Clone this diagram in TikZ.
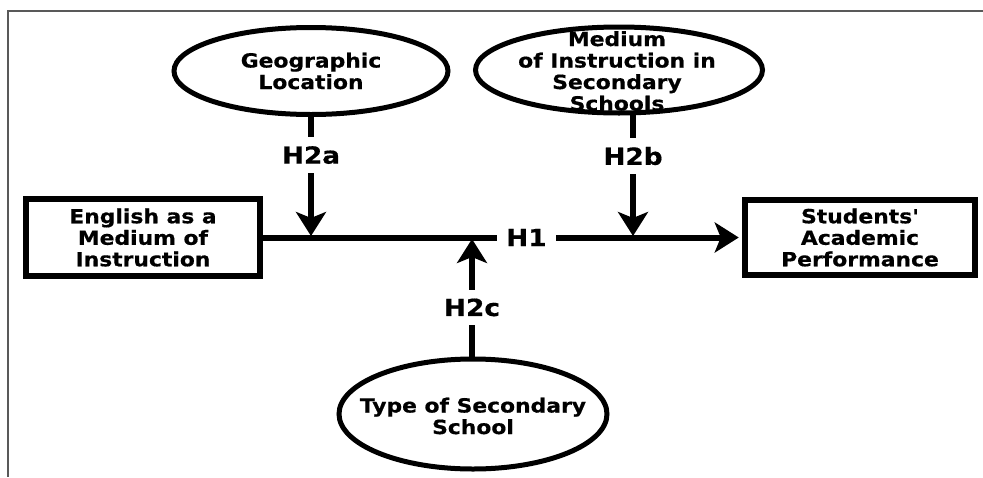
\documentclass[tikz,border=0pt]{standalone}
\usepackage{fontspec}
\newfontfamily\labfont{DejaVu Sans Bold}[FakeStretch=1.12,FakeBold=0.6]
\usetikzlibrary{shapes.geometric,arrows.meta}
\tikzset{
  framel/.style={draw=black!65, line width=1.5pt},
  oval/.style={draw=black, line width=5pt, ellipse, inner sep=0pt},
  boxn/.style={draw=black, line width=6.5pt, rectangle, inner sep=0pt},
  txt/.style={font=\labfont\fontsize{19.5}{21.5}\selectfont, align=center, text=black, inner sep=0pt},
  hlab/.style={font=\labfont\fontsize{23.5}{25}\selectfont, text=black, fill=white, inner xsep=9pt, inner ysep=9pt},
  conn/.style={draw=black, line width=6pt},
  arr/.style={conn, -{Stealth[length=24pt,width=30pt,inset=6pt]}},
}
\begin{document}
\begin{tikzpicture}[x=1pt,y=-1pt]
\useasboundingbox (0,0) rectangle (983,477);
\fill[white] (0,0) rectangle (983,477);
% frame
\coordinate (ftr) at (983,11);
\coordinate (ftl) at (8,11);
\coordinate (fbl) at (8,477);
\draw[framel] (ftr) -- (ftl) -- (fbl);
% nodes
\node[oval, minimum width=274pt, minimum height=87pt] (geo) at (311,71) {};
\node[txt] (geot) at (geo.center) {Geographic\\Location};
\node[oval, minimum width=287pt, minimum height=86pt] (med) at (619,70) {};
\node[txt] (medt) at (617,71) {Medium\\of Instruction in\\Secondary\\Schools};
\node[oval, minimum width=268pt, minimum height=110pt] (typ) at (473,414) {};
\node[txt] (typt) at (473,416) {Type of Secondary\\School};
\node[boxn, minimum width=234pt, minimum height=77pt] (lb) at (143,237.5) {};
\node[txt] (lbt) at (lb.center) {English as a\\Medium of\\Instruction};
\node[boxn, minimum width=230pt, minimum height=75pt] (rb) at (860,237.5) {};
\node[txt] (rbt) at (rb.center) {Students'\\Academic\\Performance};
% junctions
\coordinate (ja) at (311,236);
\coordinate (jb) at (633,236);
\coordinate (jc) at (472,239);
\coordinate (mb) at (633,113);
\coordinate (tt) at (472,359);
% main arrow
\draw[arr, shorten >=3pt] (lb.east) -- node[hlab, pos=0.55] (h1) {H1} (rb.west);
% moderators
\draw[arr] (geo.south) -- node[hlab, pos=0.32] (h2a) {H2a} (ja);
\draw[arr] (mb) -- node[hlab, pos=0.35] (h2b) {H2b} (jb);
\draw[arr] (tt) -- node[hlab, pos=0.43] (h2c) {H2c} (jc);
\end{tikzpicture}
\end{document}
